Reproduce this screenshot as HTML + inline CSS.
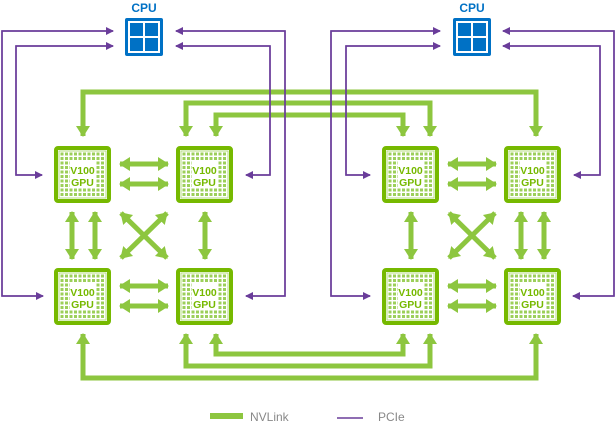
<!DOCTYPE html>
<html><head><meta charset="utf-8"><style>
html,body{margin:0;padding:0;background:#fff;width:616px;height:423px;overflow:hidden}
text{font-family:"Liberation Sans",sans-serif}
</style></head><body>
<svg width="616" height="423" viewBox="0 0 616 423" xmlns="http://www.w3.org/2000/svg">
<defs>
<marker id="g" markerUnits="userSpaceOnUse" markerWidth="16" markerHeight="16" refX="10" refY="8" orient="auto-start-reverse"><path d="M0,1 L11,8 L0,15 Z" fill="#8dc63f"/></marker>
<marker id="p" markerUnits="userSpaceOnUse" markerWidth="8" markerHeight="8" refX="7" refY="4" orient="auto"><path d="M0,0 L8,4 L0,8 Z" fill="#6a3d9a"/></marker>
<pattern id="dots" x="6.5" y="6.5" width="4.5" height="4.5" patternUnits="userSpaceOnUse"><rect width="3" height="3" fill="#9ccf5a"/></pattern>
<g id="gpu">
<rect x="2" y="2" width="53" height="53" rx="2" fill="#fff" stroke="#76b900" stroke-width="4"/>
<rect x="5" y="5" width="47" height="47" fill="none" stroke="#b5dc7f" stroke-width="1"/>
<rect x="6.5" y="6.5" width="45" height="45" fill="url(#dots)"/>
<rect x="16" y="15" width="25" height="27" fill="#fff"/>
<rect x="0" y="24" width="4" height="9" fill="#76b900"/><rect x="53" y="24" width="4" height="9" fill="#76b900"/>
</g>
<g id="cpu">
<rect x="125" y="18" width="38" height="38" rx="2" fill="#0071c5"/>
<rect x="128" y="21" width="32" height="32" fill="#fff"/>
<rect x="130" y="23" width="13" height="13" fill="#0071c5"/>
<rect x="145" y="23" width="13" height="13" fill="#0071c5"/>
<rect x="130" y="38" width="13" height="13" fill="#0071c5"/>
<rect x="145" y="38" width="13" height="13" fill="#0071c5"/>
</g>
</defs>
<g fill="none" stroke="#8dc63f" stroke-width="5">
<path d="M83,136 V92 H536 V136" marker-start="url(#g)" marker-end="url(#g)"/>
<path d="M186,136 V103 H430 V136" marker-start="url(#g)" marker-end="url(#g)"/>
<path d="M216,136 V115 H403 V136" marker-start="url(#g)" marker-end="url(#g)"/>
<path d="M83,334 V378 H536 V334" marker-start="url(#g)" marker-end="url(#g)"/>
<path d="M186,334 V366 H430 V334" marker-start="url(#g)" marker-end="url(#g)"/>
<path d="M216,334 V354 H403 V334" marker-start="url(#g)" marker-end="url(#g)"/>
<path d="M120,164 H168" marker-start="url(#g)" marker-end="url(#g)"/>
<path d="M120,184 H168" marker-start="url(#g)" marker-end="url(#g)"/>
<path d="M120,286 H168" marker-start="url(#g)" marker-end="url(#g)"/>
<path d="M120,306 H168" marker-start="url(#g)" marker-end="url(#g)"/>
<path d="M72,212 V259" marker-start="url(#g)" marker-end="url(#g)"/>
<path d="M95,212 V259" marker-start="url(#g)" marker-end="url(#g)"/>
<path d="M205,212 V259" marker-start="url(#g)" marker-end="url(#g)"/>
<path d="M121,213 L167,258" marker-start="url(#g)" marker-end="url(#g)"/>
<path d="M167,213 L121,258" marker-start="url(#g)" marker-end="url(#g)"/>
<path d="M448,164 H496" marker-start="url(#g)" marker-end="url(#g)"/>
<path d="M448,184 H496" marker-start="url(#g)" marker-end="url(#g)"/>
<path d="M448,286 H496" marker-start="url(#g)" marker-end="url(#g)"/>
<path d="M448,306 H496" marker-start="url(#g)" marker-end="url(#g)"/>
<path d="M521,212 V259" marker-start="url(#g)" marker-end="url(#g)"/>
<path d="M544,212 V259" marker-start="url(#g)" marker-end="url(#g)"/>
<path d="M411,212 V259" marker-start="url(#g)" marker-end="url(#g)"/>
<path d="M449,213 L495,258" marker-start="url(#g)" marker-end="url(#g)"/>
<path d="M495,213 L449,258" marker-start="url(#g)" marker-end="url(#g)"/>
</g>
<g fill="none" stroke="#6a3d9a" stroke-width="1.5">
<path d="M43,296 H2 V31 H113" marker-end="url(#p)"/>
<path d="M113,31 H2 V296 H43" marker-end="url(#p)"/>
<path d="M42,175 H16 V46 H113" marker-end="url(#p)"/>
<path d="M113,46 H16 V175 H42" marker-end="url(#p)"/>
<path d="M246,296 H285 V31 H176" marker-end="url(#p)"/>
<path d="M176,31 H285 V296 H246" marker-end="url(#p)"/>
<path d="M246,175 H270 V46 H176" marker-end="url(#p)"/>
<path d="M176,46 H270 V175 H246" marker-end="url(#p)"/>
<path d="M503,31 H614 V296 H573" marker-end="url(#p)"/>
<path d="M573,296 H614 V31 H503" marker-end="url(#p)"/>
<path d="M574,175 H600 V46 H503" marker-end="url(#p)"/>
<path d="M503,46 H600 V175 H574" marker-end="url(#p)"/>
<path d="M370,296 H331 V31 H440" marker-end="url(#p)"/>
<path d="M440,31 H331 V296 H370" marker-end="url(#p)"/>
<path d="M370,175 H346 V46 H440" marker-end="url(#p)"/>
<path d="M440,46 H346 V175 H370" marker-end="url(#p)"/>
</g>
<use href="#cpu"/>
<use href="#cpu" x="328"/>
<text x="144" y="12" font-size="12" fill="#0071c5" text-anchor="middle" font-weight="bold">CPU</text>
<text x="472" y="12" font-size="12" fill="#0071c5" text-anchor="middle" font-weight="bold">CPU</text>
<g font-size="10.5" font-weight="bold" fill="#76b900" text-anchor="middle">
<use href="#gpu" x="54" y="146"/><text x="82.5" y="174">V100</text><text x="82.5" y="186">GPU</text>
<use href="#gpu" x="176" y="146"/><text x="204.5" y="174">V100</text><text x="204.5" y="186">GPU</text>
<use href="#gpu" x="54" y="268"/><text x="82.5" y="296">V100</text><text x="82.5" y="308">GPU</text>
<use href="#gpu" x="176" y="268"/><text x="204.5" y="296">V100</text><text x="204.5" y="308">GPU</text>
<use href="#gpu" x="382" y="146"/><text x="410.5" y="174">V100</text><text x="410.5" y="186">GPU</text>
<use href="#gpu" x="504" y="146"/><text x="532.5" y="174">V100</text><text x="532.5" y="186">GPU</text>
<use href="#gpu" x="382" y="268"/><text x="410.5" y="296">V100</text><text x="410.5" y="308">GPU</text>
<use href="#gpu" x="504" y="268"/><text x="532.5" y="296">V100</text><text x="532.5" y="308">GPU</text>
</g>
<rect x="210" y="413" width="33" height="6" fill="#8dc63f"/>
<text x="250" y="421" font-size="12" fill="#888">NVLink</text>
<line x1="337" y1="418" x2="363" y2="418" stroke="#6a3d9a" stroke-width="1.5"/>
<text x="378" y="421" font-size="12" fill="#888">PCIe</text>
</svg>
</body></html>
